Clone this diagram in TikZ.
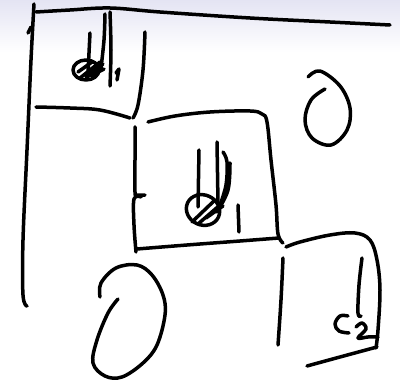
\documentclass[tikz,border=0pt]{standalone}
\usepackage{xcolor}
\usepackage{tikz}
\definecolor{inkblack}{HTML}{000000}
\definecolor{boardtint}{HTML}{E4E4F3}

\begin{document}
\begin{tikzpicture}[x=1pt,y=-1pt,
    ink/.style={draw=inkblack,line width=3.5pt,line cap=round,line join=round},
    sk/.style={ink,smooth,tension=0.6}]
  \useasboundingbox (0,0) rectangle (400,382);
  \shade[top color=boardtint,bottom color=white] (0,0) rectangle (400,52);

  % outer frame
  \draw[ink] plot[sk] coordinates {(34,4) (31,60) (27,150) (23,240) (23,295) (27,306)};
  \draw[ink] (31,27) -- (28,33);
  \draw[ink] plot[sk] coordinates {(36,12) (70,10) (110,8) (160,12) (250,18) (330,22) (390,25)};

  % box one
  \draw[ink] plot[sk] coordinates {(145,32) (143,70) (138,105) (133,118)};
  \draw[ink] plot[sk] coordinates {(36,107) (70,108) (100,110) (130,118)};

  % box two
  \draw[ink] plot[sk] coordinates {(148,122) (175,116) (210,112) (250,111) (262,114) (267,122) (271,160) (276,205) (278,234) (283,243)};
  \draw[ink] plot[sk] coordinates {(135,127) (135,160) (135,192) (137,195) (145,195)};
  \draw[ink] plot[sk] coordinates {(141,197) (134,199) (134,225) (136,252)};
  \draw[ink] plot[sk] coordinates {(137,249) (187,245) (240,241) (279,238)};

  % box three
  \draw[ink] plot[sk] coordinates {(286,247) (300,242) (330,235) (355,233) (370,240) (377,260) (380,290) (378,330) (376,348)};
  \draw[ink] plot[sk] coordinates {(307,366) (340,357) (377,347)};
  \draw[ink] plot[sk] coordinates {(283,258) (281,300) (278,345)};
  \draw[ink] plot[sk] coordinates {(362,258) (359,285) (358,313) (361,316)};

  % label c2
  \draw[ink] plot[sk] coordinates {(348,316) (340,316) (335,324) (339,331) (349,333)};
  \draw[ink] plot[sk] coordinates {(356,327) (362,323) (366,329) (358,338) (368,337) (378,337)};

  % glyph in box one
  \draw[ink] (90,33) -- (88,73);
  \draw[ink] plot[sk] coordinates {(105,14) (104,40) (101,68)};
  \draw[ink] plot[sk] coordinates {(110,12) (111,50) (110,86)};
  \draw[ink] (86,70) ellipse [x radius=13, y radius=10];
  \draw[ink] (80,78) -- (100,62) (86,78) -- (103,64) (91,76) -- (104,69) (78,72) -- (92,62);
  \draw[ink] (119,69) -- (116,73) (119,69) -- (117,80);

  % glyph in box two
  \draw[ink] (199,150) -- (198,207);
  \draw[ink] (217,142) -- (218,203);
  \draw[ink] plot[sk] coordinates {(223,152) (227,162) (226,185) (220,205)};
  \draw[ink] plot[sk] coordinates {(230,163) (228,190) (217,212)};
  \draw[ink,rotate around={-25:(203,210)}] (203,210) ellipse [x radius=17, y radius=15];
  \draw[ink] (192,222) -- (215,200) (198,224) -- (220,205) (206,218) -- (223,206);
  \draw[ink] (238,205) -- (239,232);

  % open loops
  \draw[ink] plot[sk] coordinates {(100,297) (101,283) (116,268) (137,265) (152,275) (163,295) (165,315) (157,345) (143,363) (122,377) (105,376) (93,363) (97,340) (108,313) (118,299)};
  \draw[ink] plot[sk] coordinates {(308,77) (320,71) (340,86) (350,108) (347,130) (331,145) (312,138) (305,120) (311,100) (325,89)};
\end{tikzpicture}
\end{document}
